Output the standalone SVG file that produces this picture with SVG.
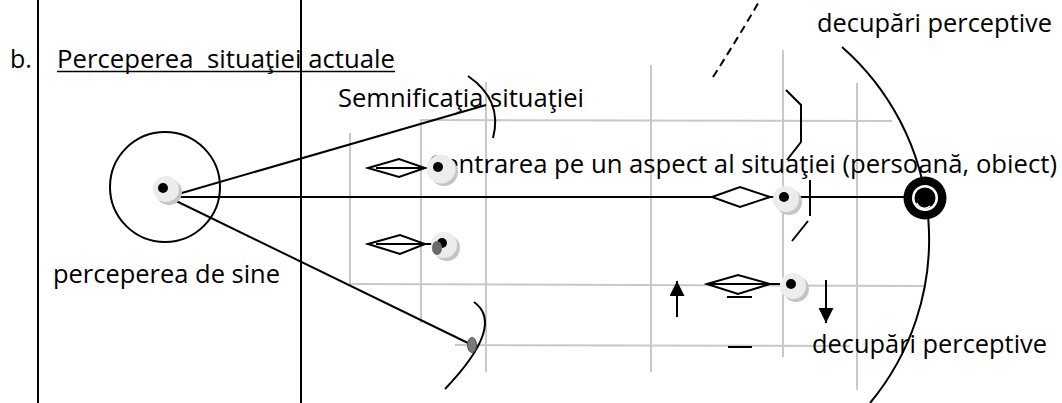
<svg xmlns="http://www.w3.org/2000/svg" width="1062" height="403" viewBox="0 0 1062 403">
<style>
text{font-family:"Open Sans","Liberation Sans",sans-serif;font-size:25px;fill:#000;white-space:pre}
.k{stroke:#000;stroke-width:2;fill:none}
.g{stroke:#c8c8c8;stroke-width:2;fill:none}
.dia{stroke:#000;stroke-width:2;fill:#fff;stroke-linejoin:miter}
.sh1{fill:#c4c4c4}
.sh2{fill:#ececec}
</style>
<defs>
<g id="dot">
<circle cx="5" cy="5" r="13" class="sh1"/>
<circle cx="2" cy="2" r="13" class="sh2"/>
<circle cx="0" cy="0" r="5" fill="#000"/>
</g>
<marker id="ah" viewBox="0 0 10 10" refX="10" refY="5" markerWidth="15" markerHeight="15" markerUnits="userSpaceOnUse" orient="auto">
<path d="M0,0 L10,5 L0,10 Z" fill="#000"/>
</marker>
</defs>
<rect width="1062" height="403" fill="#fff"/>

<g id="frame">
<line x1="38" y1="0" x2="38" y2="403" class="k"/>
<line x1="301" y1="0" x2="301" y2="403" class="k"/>
</g>

<g id="grid">
<line x1="350" y1="133" x2="350" y2="284" class="g"/>
<line x1="421" y1="119" x2="421" y2="323" class="g"/>
<line x1="486" y1="82" x2="486" y2="372" class="g"/>
<line x1="651" y1="65" x2="651" y2="372" class="g"/>
<line x1="783" y1="50" x2="783" y2="357" class="g"/>
<line x1="857" y1="83" x2="857" y2="390" class="g"/>
<line x1="421" y1="120" x2="892" y2="121" class="g"/>
<line x1="350" y1="284" x2="925" y2="286" class="g"/>
<line x1="455" y1="345" x2="850" y2="346" class="g"/>
</g>

<g id="title">
<text x="10" y="68">b.</text>
<text x="57" y="68" textLength="338" lengthAdjust="spacingAndGlyphs">Perceperea  situaţiei actuale</text>
<line x1="57" y1="71.5" x2="395" y2="71.5" stroke="#000" stroke-width="1.6"/>
</g>

<g id="labels">
<text x="338" y="107" textLength="246" lengthAdjust="spacingAndGlyphs">Semnificaţia situaţiei</text>
<text x="428" y="173" textLength="629" lengthAdjust="spacingAndGlyphs">Centrarea pe un aspect al situaţiei (persoană, obiect)</text>
<text x="53" y="283" textLength="227" lengthAdjust="spacingAndGlyphs">perceperea de sine</text>
<text x="817" y="32" textLength="235" lengthAdjust="spacingAndGlyphs">decupări perceptive</text>
<text x="812" y="353" textLength="235" lengthAdjust="spacingAndGlyphs">decupări perceptive</text>
</g>

<g id="connectors">
<line x1="168" y1="197" x2="486" y2="105" class="k"/>
<line x1="168" y1="197" x2="905" y2="197" class="k"/>
<line x1="168" y1="197" x2="470" y2="344" class="k"/>
<path d="M468,76 Q503,100 493,138" class="k"/>
<path d="M474,302 Q506,325 445,389" class="k"/>
<path d="M713,77 Q738,38 760,0" class="k" stroke-dasharray="8,5"/>
<path d="M842,47 A256,256 0 0 1 870,403" class="k"/>
<polyline points="786,90 801,105 801,142 787,160" class="k"/>
<line x1="810" y1="180" x2="810" y2="216" class="k"/>
<line x1="808" y1="221" x2="792" y2="241" class="k"/>
<line x1="677" y1="317" x2="677" y2="281" class="k" marker-end="url(#ah)"/>
<line x1="826" y1="280" x2="826" y2="323" class="k" marker-end="url(#ah)"/>
<line x1="728" y1="347" x2="752" y2="347" class="k"/>
</g>

<g id="self">
<circle cx="165" cy="187" r="55" class="k"/>
<circle cx="169" cy="192" r="13" class="sh1"/>
<circle cx="166" cy="189" r="13" class="sh2"/>
<circle cx="163" cy="188" r="5" fill="#000"/>
</g>

<g id="aspect1">
<path d="M368,168 L399,159 L425,168 L399,177 Z" class="dia"/>
<line x1="376" y1="168" x2="432" y2="168" class="k"/>
<circle cx="444" cy="172" r="14" class="sh1"/>
<circle cx="441" cy="169" r="14.5" class="sh2"/>
<circle cx="438" cy="167" r="5" fill="#000"/>
</g>

<g id="aspect2">
<path d="M368,244 L400,235 L425,244 L400,254 Z" class="dia"/>
<line x1="376" y1="244" x2="434" y2="244" class="k"/>
<use href="#dot" x="442" y="243"/>
<ellipse cx="437" cy="248" rx="5" ry="7" fill="#6a6a6a"/>
</g>

<g id="aspect3">
<path d="M712,197 L740,187 L770,197 L740,207 Z" class="dia"/>
<use href="#dot" x="784" y="197"/>
</g>

<g id="aspect4">
<path d="M707,284 L738,275 L770,284 L738,294 Z" class="dia"/>
<line x1="707" y1="284" x2="780" y2="284" class="k"/>
<line x1="727" y1="297" x2="752" y2="297" class="k"/>
<use href="#dot" x="791" y="284"/>
</g>

<g id="aspect5">
<ellipse cx="472" cy="345" rx="4.5" ry="7.5" fill="#7a7a7a" stroke="#555" stroke-width="1"/>
</g>

<g id="target">
<circle cx="925" cy="198" r="21.5" fill="#000"/>
<circle cx="925" cy="198" r="13" fill="#fff"/>
<circle cx="925" cy="198" r="10.5" fill="#000"/>
<path d="M917,203 A8,8 0 0 0 930,206" stroke="#fff" stroke-width="1.5" fill="none"/>
</g>
</svg>
